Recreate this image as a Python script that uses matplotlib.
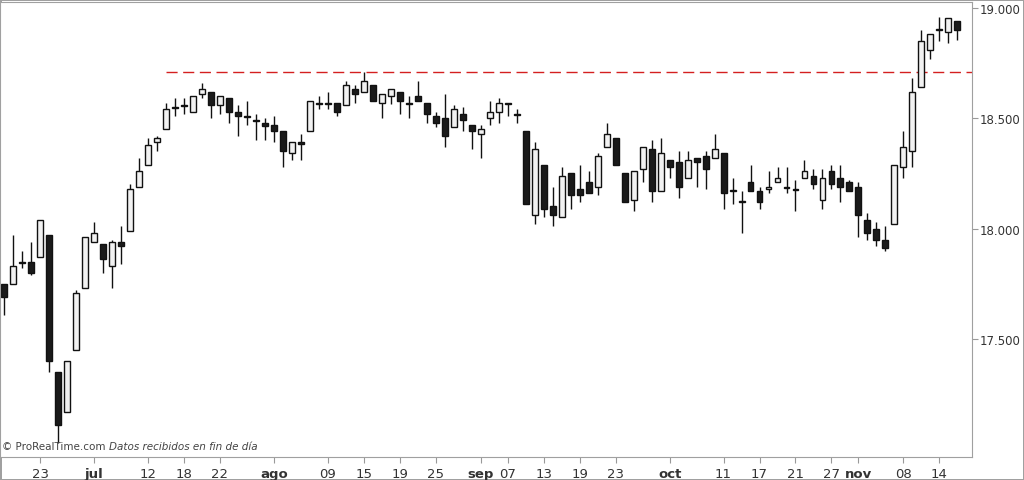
import numpy as np
import matplotlib.pyplot as plt

# Daily OHLC (one candle per trading day)
opens = [17.75, 17.75, 17.85, 17.85, 17.87, 17.97, 17.35, 17.17, 17.45, 17.73,
         17.94, 17.93, 17.83, 17.94, 17.99, 18.19, 18.29, 18.39, 18.45, 18.55,
         18.56, 18.53, 18.61, 18.62, 18.56, 18.59, 18.53, 18.51, 18.49, 18.48,
         18.47, 18.44, 18.34, 18.39, 18.44, 18.57, 18.57, 18.57, 18.56, 18.63,
         18.62, 18.65, 18.57, 18.60, 18.62, 18.57, 18.60, 18.57, 18.51, 18.50,
         18.46, 18.52, 18.47, 18.43, 18.50, 18.53, 18.57, 18.52, 18.44, 18.06,
         18.29, 18.10, 18.05, 18.25, 18.18, 18.21, 18.19, 18.37, 18.41, 18.25,
         18.13, 18.27, 18.36, 18.17, 18.31, 18.30, 18.23, 18.32, 18.33, 18.32,
         18.34, 18.17, 18.12, 18.21, 18.17, 18.18, 18.21, 18.19, 18.18, 18.23,
         18.24, 18.13, 18.26, 18.23, 18.21, 18.19, 18.04, 18.00, 17.95, 18.02,
         18.28, 18.35, 18.64, 18.81, 18.90, 18.89, 18.94]
highs = [17.75, 17.97, 17.90, 17.94, 18.04, 17.97, 17.35, 17.40, 17.72, 17.96,
         18.03, 17.93, 17.95, 18.01, 18.20, 18.32, 18.41, 18.42, 18.57, 18.59,
         18.59, 18.60, 18.66, 18.62, 18.60, 18.59, 18.56, 18.58, 18.52, 18.50,
         18.51, 18.44, 18.39, 18.43, 18.58, 18.60, 18.62, 18.57, 18.67, 18.65,
         18.71, 18.65, 18.61, 18.63, 18.62, 18.60, 18.67, 18.57, 18.53, 18.61,
         18.56, 18.55, 18.47, 18.47, 18.58, 18.59, 18.57, 18.54, 18.44, 18.39,
         18.29, 18.19, 18.28, 18.25, 18.29, 18.26, 18.34, 18.48, 18.41, 18.25,
         18.26, 18.37, 18.40, 18.41, 18.31, 18.35, 18.35, 18.32, 18.35, 18.43,
         18.34, 18.23, 18.17, 18.29, 18.19, 18.26, 18.28, 18.28, 18.22, 18.31,
         18.27, 18.27, 18.29, 18.29, 18.22, 18.21, 18.07, 18.03, 18.01, 18.29,
         18.44, 18.68, 18.90, 18.88, 18.96, 18.955, 18.94]
lows = [17.61, 17.75, 17.82, 17.79, 17.87, 17.35, 17.03, 17.17, 17.45, 17.73,
        17.94, 17.80, 17.73, 17.84, 17.99, 18.19, 18.29, 18.35, 18.45, 18.51,
        18.52, 18.53, 18.59, 18.50, 18.52, 18.48, 18.42, 18.47, 18.40, 18.40,
        18.39, 18.28, 18.31, 18.31, 18.44, 18.54, 18.54, 18.51, 18.56, 18.57,
        18.62, 18.58, 18.50, 18.565, 18.52, 18.50, 18.58, 18.48, 18.46, 18.37,
        18.46, 18.44, 18.36, 18.32, 18.47, 18.48, 18.51, 18.48, 18.11, 18.02,
        18.05, 18.01, 18.05, 18.09, 18.12, 18.16, 18.15, 18.37, 18.29, 18.12,
        18.08, 18.21, 18.12, 18.17, 18.23, 18.14, 18.23, 18.19, 18.18, 18.32,
        18.09, 18.11, 17.98, 18.17, 18.09, 18.16, 18.21, 18.16, 18.08, 18.23,
        18.18, 18.09, 18.18, 18.12, 18.17, 17.96, 17.95, 17.92, 17.90, 18.02,
        18.23, 18.28, 18.64, 18.77, 18.85, 18.84, 18.855]
closes = [17.69, 17.83, 17.845, 17.80, 18.04, 17.40, 17.11, 17.40, 17.71, 17.96,
          17.98, 17.86, 17.94, 17.92, 18.18, 18.26, 18.38, 18.41, 18.54, 18.545,
          18.555, 18.60, 18.63, 18.56, 18.60, 18.53, 18.51, 18.505, 18.485, 18.465,
          18.44, 18.35, 18.39, 18.385, 18.58, 18.565, 18.565, 18.53, 18.65, 18.61,
          18.67, 18.58, 18.61, 18.63, 18.58, 18.565, 18.58, 18.52, 18.48, 18.42,
          18.54, 18.49, 18.44, 18.45, 18.53, 18.57, 18.565, 18.515, 18.11, 18.36,
          18.09, 18.06, 18.24, 18.15, 18.15, 18.16, 18.33, 18.43, 18.29, 18.12,
          18.26, 18.37, 18.17, 18.34, 18.28, 18.19, 18.31, 18.30, 18.27, 18.36,
          18.16, 18.175, 18.125, 18.17, 18.12, 18.19, 18.23, 18.185, 18.175, 18.26,
          18.20, 18.23, 18.20, 18.19, 18.17, 18.06, 17.98, 17.95, 17.91, 18.29,
          18.37, 18.62, 18.85, 18.88, 18.905, 18.955, 18.90]

resistance = 18.71
resistance_start = 18

tick_pos = [4, 10, 16, 20, 24, 30, 36, 40, 44, 48, 53, 56, 60, 64, 68,
            74, 80, 84, 88, 92, 95, 100, 104]
tick_labels = ["23", "jul", "12", "18", "22", "ago", "09", "15", "19", "25",
               "sep", "07", "13", "19", "23", "oct", "11", "17", "21", "27",
               "nov", "08", "14"]
months = {"jul", "ago", "sep", "oct", "nov"}

o = np.array(opens)
h = np.array(highs)
l = np.array(lows)
c = np.array(closes)
x = np.arange(len(o))

fig = plt.figure(figsize=(10.24, 4.81), dpi=100)
fig.patch.set_facecolor("white")
fig.patch.set_edgecolor("#a0a0a0")
fig.patch.set_linewidth(2)
ax = fig.add_axes([0.0, 0.048, 0.949, 0.946])

ax.vlines(x, l, h, color="#111111", linewidth=1, zorder=1)
up = c >= o
body = np.maximum(np.abs(c - o), 0.004)
bottom = np.minimum(o, c)
ax.bar(x[up], body[up], bottom=bottom[up], width=0.66, color="#f2f2f2",
       edgecolor="#111111", linewidth=1, zorder=2)
ax.bar(x[~up], body[~up], bottom=bottom[~up], width=0.66, color="#1a1a1a",
       edgecolor="#111111", linewidth=1, zorder=2)

ax.hlines(resistance, resistance_start, len(o) + 1, color="#d42020",
          linestyles=(0, (8, 4)), linewidth=1, zorder=0)

ax.set_xlim(-0.45, 107.6)
ax.set_ylim(16.965, 19.027)

ax.yaxis.tick_right()
ax.set_yticks([17.5, 18.0, 18.5, 19.0])
ax.set_yticklabels(["17.500", "18.000", "18.500", "19.000"])
ax.set_xticks(tick_pos)
ax.set_xticklabels(tick_labels)
for t in ax.get_xticklabels():
    if t.get_text() in months:
        t.set_fontweight("bold")
ax.tick_params(axis="both", colors="#999999", labelcolor="#333333",
               labelsize=9.5, length=4, direction="out")
ax.tick_params(axis="y", labelsize=8.5, pad=2)
for s in ax.spines.values():
    s.set_color("#a0a0a0")

ax.text(0.002, 0.012, "© ProRealTime.com", transform=ax.transAxes,
        fontsize=7.5, color="#444444", va="bottom")
ax.text(0.112, 0.012, "Datos recibidos en fin de día", transform=ax.transAxes,
        fontsize=7.5, color="#444444", va="bottom", style="italic")

fig.savefig("out.png", dpi=100, edgecolor=fig.get_edgecolor())
